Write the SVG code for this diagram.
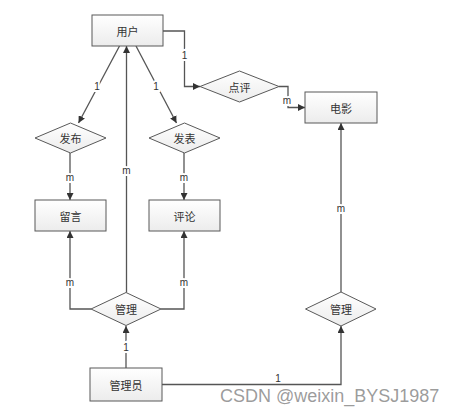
<svg xmlns="http://www.w3.org/2000/svg" width="460" height="413" viewBox="0 0 460 413">
<style>
.box{fill:url(#g);stroke:#595959;stroke-width:1}
.dia{fill:url(#g);stroke:#595959;stroke-width:1}
.t{font-family:"Noto Sans CJK SC","Liberation Sans",sans-serif;font-size:11px;fill:#333;text-anchor:middle;dominant-baseline:central}
.c{fill:none;stroke:#555;stroke-width:1.3}
.lb{font-family:"Liberation Sans","DejaVu Sans",sans-serif;font-size:10px;fill:#333;text-anchor:middle;dominant-baseline:central;stroke:#fff;stroke-width:4px;paint-order:stroke}
</style>
<defs>
<linearGradient id="g" x1="0" y1="0" x2="0" y2="1">
<stop offset="0" stop-color="#ffffff"/>
<stop offset="1" stop-color="#ececec"/>
</linearGradient>
<marker id="a" viewBox="0 0 10 10" refX="10" refY="5" markerWidth="7" markerHeight="7" markerUnits="userSpaceOnUse" orient="auto">
<path d="M0,0 L10,5 L0,10 z" fill="#333"/>
</marker>
</defs>
<rect width="460" height="413" fill="#fff"/>
<g id="connectors">
<path class="c" d="M163,31 H184.5 V86.5 H200" marker-end="url(#a)"/>
<path class="c" d="M279,86.5 H288 V107.5 H305" marker-end="url(#a)"/>
<path class="c" d="M119.5,46 L78.5,123" marker-end="url(#a)"/>
<path class="c" d="M136,46 L176.5,123" marker-end="url(#a)"/>
<path class="c" d="M70,153 V200" marker-end="url(#a)"/>
<path class="c" d="M184,153 V200" marker-end="url(#a)"/>
<path class="c" d="M91,309 H70 V231" marker-end="url(#a)"/>
<path class="c" d="M161,309 H184 V231" marker-end="url(#a)"/>
<path class="c" d="M126.5,292.5 V46" marker-end="url(#a)"/>
<path class="c" d="M126,368 V326" marker-end="url(#a)"/>
<path class="c" d="M162,384.5 H341 V326" marker-end="url(#a)"/>
<path class="c" d="M341,292 V123" marker-end="url(#a)"/>
<text class="lb" x="184.5" y="55">1</text>
<text class="lb" x="287" y="100">m</text>
<text class="lb" x="97" y="86">1</text>
<text class="lb" x="156" y="86">1</text>
<text class="lb" x="70" y="177">m</text>
<text class="lb" x="184" y="177">m</text>
<text class="lb" x="126.5" y="170">m</text>
<text class="lb" x="70" y="282">m</text>
<text class="lb" x="184" y="282">m</text>
<text class="lb" x="126" y="347">1</text>
<text class="lb" x="278" y="378" style="stroke:none">1</text>
<text class="lb" x="341" y="208">m</text>
</g>
<g id="user"><rect class="box" x="92" y="15" width="71" height="31"/><text class="t" x="127.5" y="30.5">用户</text></g>
<g id="review"><polygon class="dia" points="200,86.5 239.5,71 279,86.5 239.5,102"/><text class="t" x="239.5" y="86.5">点评</text></g>
<g id="movie"><rect class="box" x="305" y="92" width="72" height="31"/><text class="t" x="341" y="107.5">电影</text></g>
<g id="publish"><polygon class="dia" points="35,138 70.5,123 106,138 70.5,153"/><text class="t" x="70.5" y="138">发布</text></g>
<g id="post"><polygon class="dia" points="149,138 184.5,123 220,138 184.5,153"/><text class="t" x="184.5" y="138">发表</text></g>
<g id="message"><rect class="box" x="35" y="200" width="71" height="31"/><text class="t" x="70.5" y="215.5">留言</text></g>
<g id="comment"><rect class="box" x="149" y="200" width="71" height="31"/><text class="t" x="184.5" y="215.5">评论</text></g>
<g id="manage1"><polygon class="dia" points="91,309 126,292.5 161,309 126,325.5"/><text class="t" x="126" y="309">管理</text></g>
<g id="admin"><rect class="box" x="90" y="368" width="72" height="33"/><text class="t" x="126" y="384.5">管理员</text></g>
<g id="manage2"><polygon class="dia" points="305.5,309 341,292 376,309 341,326"/><text class="t" x="341" y="309">管理</text></g>
<text x="220" y="402" font-family="Liberation Sans, Arial, sans-serif" font-size="18" fill="#8a8a8a" fill-opacity="0.85">CSDN @weixin_BYSJ1987</text>
</svg>
